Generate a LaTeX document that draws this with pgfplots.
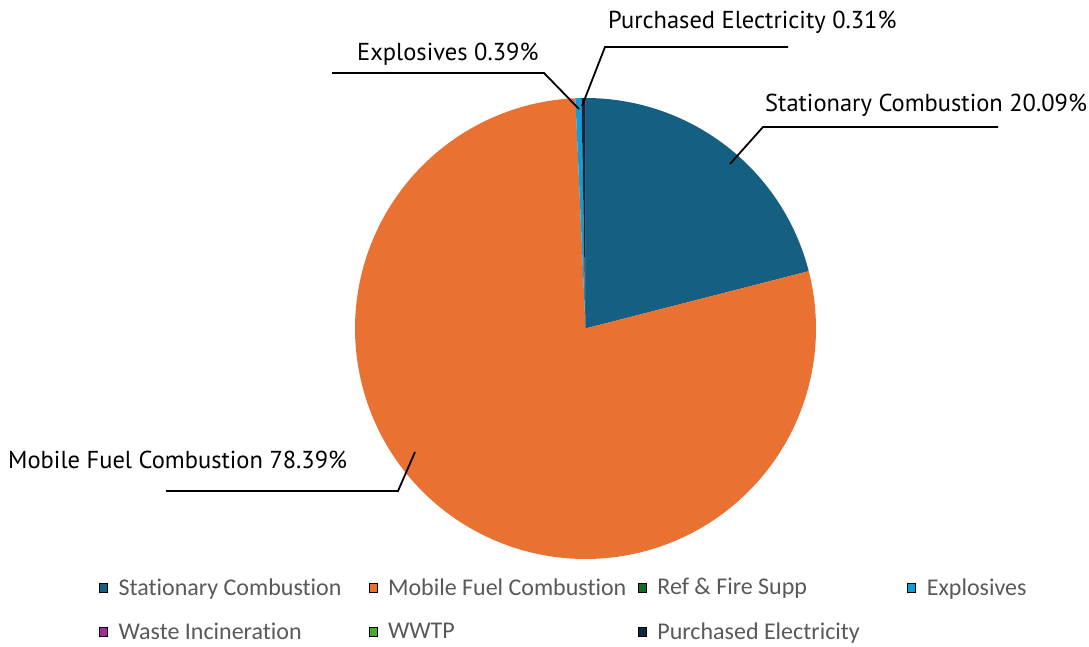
\documentclass[border=0pt]{standalone}
\usepackage{pgfplots}
\pgfplotsset{compat=1.18}
\usepackage{pgfplotstable}
\usepackage{fontspec}
\setmainfont{PT Sans}
\newfontfamily\legfont[Ligatures=NoCommon]{Carlito}
\definecolor{cStat}{HTML}{156082}
\definecolor{cMob}{HTML}{E97132}
\definecolor{cRef}{HTML}{196B24}
\definecolor{cExp}{HTML}{0F9ED5}
\definecolor{cWaste}{HTML}{A02B93}
\definecolor{cWWTP}{HTML}{4EA72E}
\definecolor{cPur}{HTML}{0E2841}
\definecolor{legtext}{HTML}{595959}
% share of each category (percent), as drawn
\pgfplotstableread{
name value
Stationary 21.0
Mobile 78.3
Ref 0
Explosives 0.42
Waste 0
WWTP 0
Purchased 0.28
}\piedata
\begin{document}
\begin{tikzpicture}
\pgfplotstablegetelem{0}{value}\of\piedata \let\vS\pgfplotsretval
\pgfplotstablegetelem{1}{value}\of\piedata \let\vM\pgfplotsretval
\pgfplotstablegetelem{3}{value}\of\piedata \let\vE\pgfplotsretval
\pgfplotstablegetelem{6}{value}\of\piedata \let\vP\pgfplotsretval
\pgfmathsetmacro\aA{90}
\pgfmathsetmacro\aB{\aA-3.6*\vS}
\pgfmathsetmacro\aC{\aB-3.6*\vM}
\pgfmathsetmacro\aD{\aC-3.6*\vE}
\pgfmathsetmacro\aE{\aD-3.6*\vP}
\def\cx{585.5}\def\cy{317.5}\def\rr{230.5}
\def\lbl{\fontsize{24.5}{28}\selectfont}
\begin{axis}[x=1pt,y=1pt,xmin=0,xmax=1089,ymin=0,ymax=646,
  hide axis, clip=false,
  legend columns=4,
  legend cell align=left,
  legend style={at={(axis cs:99,36.5)},anchor=west,draw=none,fill=none,
    font=\legfont\fontsize{24}{28}\selectfont, text=legtext, row sep=22pt,
    inner sep=0pt},
  legend image code/.code={\fill[#1] (0pt,-4.5pt) rectangle (8pt,4.5pt);},
]
\path (axis cs:0,0) rectangle (axis cs:1089,646);
\addplot[fill=cStat,draw=none,domain=\aB:\aA,samples=80,variable=\t,forget plot]
  ({\cx+\rr*cos(\t)},{\cy+\rr*sin(\t)}) -- (\cx,\cy) -- cycle;
\addplot[fill=cMob,draw=none,domain=\aC:\aB,samples=200,variable=\t,forget plot]
  ({\cx+\rr*cos(\t)},{\cy+\rr*sin(\t)}) -- (\cx,\cy) -- cycle;
\addplot[fill=cExp,draw=none,domain=\aD:\aC,samples=5,variable=\t,forget plot]
  ({\cx+\rr*cos(\t)},{\cy+\rr*sin(\t)}) -- (\cx,\cy) -- cycle;
\addplot[fill=cPur,draw=none,domain=\aE:\aD,samples=5,variable=\t,forget plot]
  ({\cx+\rr*cos(\t)},{\cy+\rr*sin(\t)}) -- (\cx,\cy) -- cycle;
% leader lines
\addplot[black,line width=1.8pt,forget plot] coordinates {(788,599) (605,599) (582,540)};
\addplot[black,line width=1.8pt,forget plot] coordinates {(332,573) (544,573) (579,537)};
\addplot[black,line width=1.8pt,forget plot] coordinates {(998,519) (763,519) (730,482)};
\addplot[black,line width=1.8pt,forget plot] coordinates {(166,155) (398,155) (415,194)};
\node[anchor=west,inner sep=0pt,font=\lbl] at (axis cs:608,624) {Purchased Electricity 0.31\%};
\node[anchor=west,inner sep=0pt,font=\lbl] at (axis cs:357,592) {Explosives 0.39\%};
\node[anchor=west,inner sep=0pt,font=\lbl] at (axis cs:765,541) {Stationary Combustion 20.09\%};
\node[anchor=west,inner sep=0pt,font=\lbl] at (axis cs:8,186) {Mobile Fuel Combustion 78.39\%};
\addlegendimage{fill=cStat}
\addlegendentry{\makebox[257pt][l]{\hspace{9pt}Stationary Combustion}}
\addlegendimage{fill=cMob}
\addlegendentry{\makebox[257pt][l]{\hspace{9pt}Mobile Fuel Combustion}}
\addlegendimage{fill=cRef}
\addlegendentry{\makebox[257pt][l]{\hspace{9pt}Ref \& Fire Supp}}
\addlegendimage{fill=cExp}
\addlegendentry{\makebox[140pt][l]{\hspace{9pt}Explosives}}
\addlegendimage{fill=cWaste}
\addlegendentry{\hspace{9pt}Waste Incineration}
\addlegendimage{fill=cWWTP}
\addlegendentry{\hspace{9pt}WWTP}
\addlegendimage{fill=cPur}
\addlegendentry{\hspace{9pt}Purchased Electricity}
\end{axis}
\end{tikzpicture}
\end{document}
